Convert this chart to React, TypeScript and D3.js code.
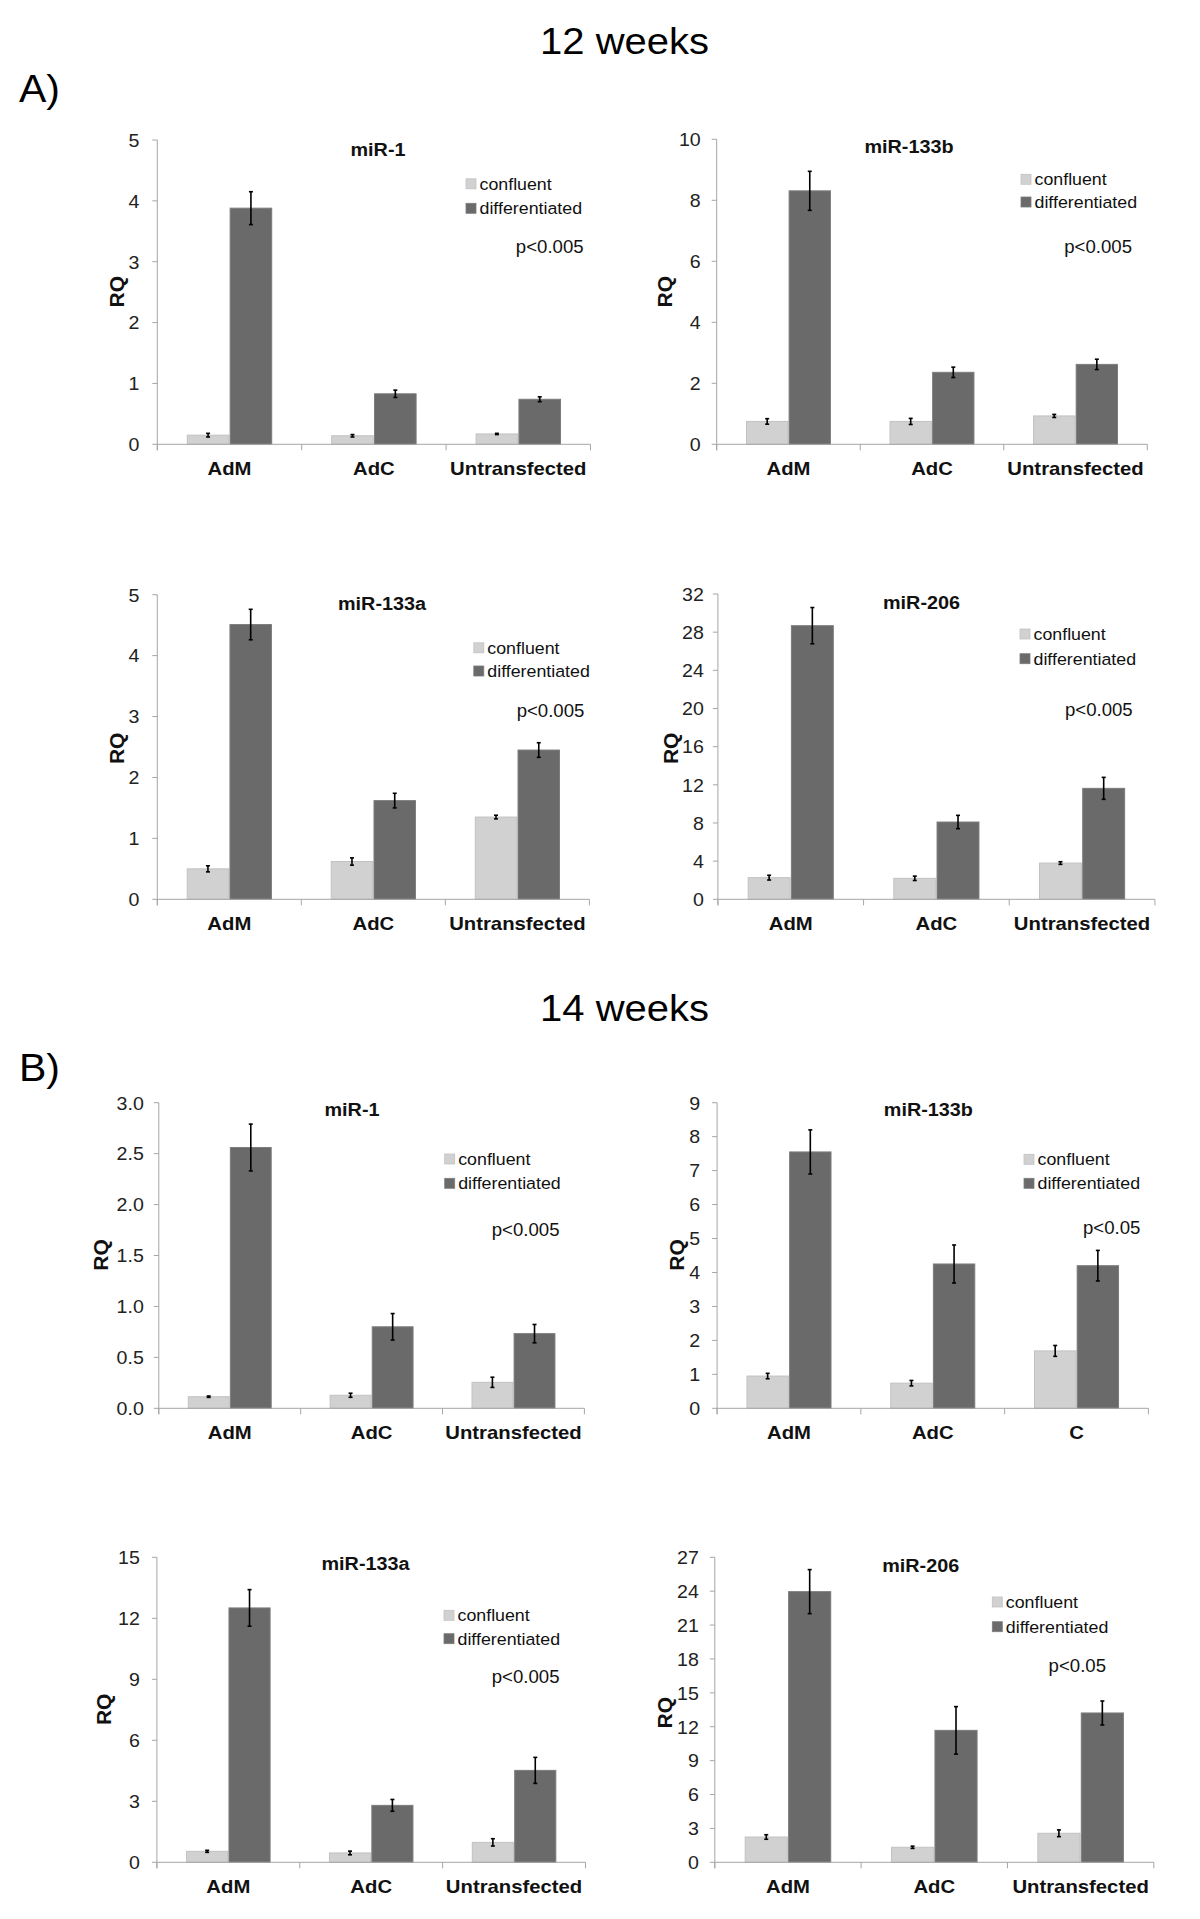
import React from "react";
import * as d3 from "d3";

// categories and series
const categories = ["AdM", "AdC", "Untransfected"];
const categoriesB2 = ["AdM", "AdC", "C"];
const seriesNames = ["confluent", "differentiated"];

// 12 weeks - miR-1
const a1Conf = [0.15, 0.14, 0.17];
const a1ConfErr = [0.03, 0.02, 0.01];
const a1Diff = [3.88, 0.83, 0.74];
const a1DiffErr = [0.27, 0.06, 0.04];
const a1Ticks = [0, 1, 2, 3, 4, 5];

// 12 weeks - miR-133b
const a2Conf = [0.75, 0.75, 0.93];
const a2ConfErr = [0.09, 0.1, 0.05];
const a2Diff = [8.31, 2.36, 2.62];
const a2DiffErr = [0.64, 0.17, 0.17];
const a2Ticks = [0, 2, 4, 6, 8, 10];

// 12 weeks - miR-133a
const a3Conf = [0.5, 0.62, 1.35];
const a3ConfErr = [0.05, 0.06, 0.03];
const a3Diff = [4.51, 1.62, 2.45];
const a3DiffErr = [0.25, 0.12, 0.12];
const a3Ticks = [0, 1, 2, 3, 4, 5];

// 12 weeks - miR-206
const a4Conf = [2.27, 2.2, 3.8];
const a4ConfErr = [0.25, 0.23, 0.14];
const a4Diff = [28.68, 8.1, 11.63];
const a4DiffErr = [1.9, 0.7, 1.15];
const a4Ticks = [0, 4, 8, 12, 16, 20, 24, 28, 32];

// 14 weeks - miR-1
const b1Conf = [0.114, 0.128, 0.255];
const b1ConfErr = [0.007, 0.02, 0.05];
const b1Diff = [2.56, 0.8, 0.733];
const b1DiffErr = [0.23, 0.13, 0.09];
const b1Ticks = [0, 0.5, 1.0, 1.5, 2.0, 2.5, 3.0];

// 14 weeks - miR-133b
const b2Conf = [0.95, 0.74, 1.69];
const b2ConfErr = [0.08, 0.08, 0.16];
const b2Diff = [7.55, 4.25, 4.2];
const b2DiffErr = [0.65, 0.56, 0.45];
const b2Ticks = [0, 1, 2, 3, 4, 5, 6, 7, 8, 9];

// 14 weeks - miR-133a
const b3Conf = [0.54, 0.46, 0.98];
const b3ConfErr = [0.05, 0.09, 0.18];
const b3Diff = [12.51, 2.8, 4.52];
const b3DiffErr = [0.9, 0.29, 0.64];
const b3Ticks = [0, 3, 6, 9, 12, 15];

// 14 weeks - miR-206
const b4Conf = [2.24, 1.33, 2.57];
const b4ConfErr = [0.2, 0.1, 0.3];
const b4Diff = [23.96, 11.68, 13.22];
const b4DiffErr = [1.95, 2.1, 1.06];
const b4Ticks = [0, 3, 6, 9, 12, 15, 18, 21, 24, 27];

const FONT = "'Liberation Sans', Arial, sans-serif";
const AXIS = "#a6a6a6";
const CONF = "#d1d1d1";
const DIFF = "#6a6a6a";
const colors = [CONF, DIFF];
const strokes = ["#c2c2c2", "#7c7c7c"];

const panels = [
  { title: "miR-1", cats: categories, conf: a1Conf, confErr: a1ConfErr, diff: a1Diff, diffErr: a1DiffErr, ticks: a1Ticks, p: "p<0.005", fmt: "d",
    left: 157.3, right: 590.5, top: 140, bottom: 444.3, titleX: 378, titleY: 156, legX: 466, legY: 183.8, legY2: 208.3, pX: 583.6, pY: 253, rqX: 116.7, rqY: 291.7, tickPad: 13 },
  { title: "miR-133b", cats: categories, conf: a2Conf, confErr: a2ConfErr, diff: a2Diff, diffErr: a2DiffErr, ticks: a2Ticks, p: "p<0.005", fmt: "d",
    left: 716.7, right: 1147.3, top: 139.3, bottom: 444.3, titleX: 909, titleY: 152.7, legX: 1021, legY: 179.3, legY2: 202, pX: 1132, pY: 253, rqX: 665, rqY: 291.7, tickPad: 11 },
  { title: "miR-133a", cats: categories, conf: a3Conf, confErr: a3ConfErr, diff: a3Diff, diffErr: a3DiffErr, ticks: a3Ticks, p: "p<0.005", fmt: "d",
    left: 157.3, right: 589.4, top: 594.7, bottom: 899.3, titleX: 382, titleY: 610, legX: 473.8, legY: 647.8, legY2: 671, pX: 584.4, pY: 716.7, rqX: 116.7, rqY: 748.3, tickPad: 13 },
  { title: "miR-206", cats: categories, conf: a4Conf, confErr: a4ConfErr, diff: a4Diff, diffErr: a4DiffErr, ticks: a4Ticks, p: "p<0.005", fmt: "d",
    left: 717.9, right: 1154.9, top: 594, bottom: 899.3, titleX: 921.5, titleY: 609.3, legX: 1020, legY: 634, legY2: 658.7, pX: 1132.7, pY: 716, rqX: 670.8, rqY: 748.3, tickPad: 9 },
  { title: "miR-1", cats: categories, conf: b1Conf, confErr: b1ConfErr, diff: b1Diff, diffErr: b1DiffErr, ticks: b1Ticks, p: "p<0.005", fmt: ".1f",
    left: 158.8, right: 584.4, top: 1102.7, bottom: 1408.3, titleX: 352, titleY: 1116, legX: 444.7, legY: 1159, legY2: 1183.3, pX: 559.5, pY: 1236, rqX: 101.4, rqY: 1255, tickPad: 10 },
  { title: "miR-133b", cats: categoriesB2, conf: b2Conf, confErr: b2ConfErr, diff: b2Diff, diffErr: b2DiffErr, ticks: b2Ticks, p: "p<0.05", fmt: "d",
    left: 717.1, right: 1148.4, top: 1102.7, bottom: 1408.3, titleX: 928.4, titleY: 1116, legX: 1024, legY: 1159.3, legY2: 1183.3, pX: 1140.4, pY: 1234, rqX: 676.5, rqY: 1255, tickPad: 12 },
  { title: "miR-133a", cats: categories, conf: b3Conf, confErr: b3ConfErr, diff: b3Diff, diffErr: b3DiffErr, ticks: b3Ticks, p: "p<0.005", fmt: "d",
    left: 156.9, right: 585.5, top: 1557.3, bottom: 1862.3, titleX: 365.5, titleY: 1570, legX: 444, legY: 1615.3, legY2: 1638.7, pX: 559.5, pY: 1683.3, rqX: 104, rqY: 1709.3, tickPad: 12 },
  { title: "miR-206", cats: categories, conf: b4Conf, confErr: b4ConfErr, diff: b4Diff, diffErr: b4DiffErr, ticks: b4Ticks, p: "p<0.05", fmt: "d",
    left: 714.8, right: 1153.8, top: 1557.3, bottom: 1862.3, titleX: 920.7, titleY: 1571.7, legX: 992.3, legY: 1602, legY2: 1626.7, pX: 1106, pY: 1671.7, rqX: 665, rqY: 1712.7, tickPad: 11 },
];

// text slightly squashed vertically, like the original figure
const T = ({ x, y, sy = 0.94, children, ...rest }: any) => (
  <text transform={`translate(${x},${y}) scale(1,${sy})`} fontFamily={FONT} {...rest}>
    {children}
  </text>
);

const Panel = ({ p }: any) => {
  const max = p.ticks[p.ticks.length - 1];
  const y = d3.scaleLinear().domain([0, max]).range([p.bottom, p.top]);
  const x0 = d3.scaleBand().domain(p.cats).range([p.left, p.right]).padding(0);
  const x1 = d3
    .scaleBand()
    .domain(seriesNames)
    .range([0, x0.bandwidth()])
    .paddingInner(0.03)
    .paddingOuter(0.7);
  const fmt = d3.format(p.fmt);
  const vals = [p.conf, p.diff];
  const errs = [p.confErr, p.diffErr];
  const edges = [...p.cats.map((c: string) => x0(c)), p.right];

  return (
    <g>
      {/* bars */}
      {p.cats.map((c: string, i: number) =>
        seriesNames.map((s, k) => {
          const bx = x0(c)! + x1(s)!;
          const v = vals[k][i];
          return (
            <rect
              key={c + s}
              x={bx}
              y={y(v)}
              width={x1.bandwidth()}
              height={p.bottom - y(v)}
              fill={colors[k]}
              stroke={strokes[k]}
              strokeWidth={1}
            />
          );
        })
      )}
      {/* error bars */}
      {p.cats.map((c: string, i: number) =>
        seriesNames.map((s, k) => {
          const cx = x0(c)! + x1(s)! + x1.bandwidth() / 2;
          const v = vals[k][i];
          const e = errs[k][i];
          return (
            <g key={"e" + c + s} stroke="#000" strokeWidth={1.6}>
              <line x1={cx} x2={cx} y1={y(v + e)} y2={y(v - e)} />
              <line x1={cx - 2} x2={cx + 2} y1={y(v + e)} y2={y(v + e)} />
              <line x1={cx - 2} x2={cx + 2} y1={y(v - e)} y2={y(v - e)} />
            </g>
          );
        })
      )}
      {/* y axis */}
      <line x1={p.left} x2={p.left} y1={p.top} y2={p.bottom + 6} stroke={AXIS} strokeWidth={1} />
      {p.ticks.map((t: number) => (
        <g key={"t" + t}>
          <line x1={p.left - 5} x2={p.left} y1={y(t)} y2={y(t)} stroke={AXIS} strokeWidth={1} />
          <T x={p.left - 5 - p.tickPad} y={y(t) + 6.8} textAnchor="end" fontSize={19.6} fill="#222">
            {fmt(t)}
          </T>
        </g>
      ))}
      {/* x axis */}
      <line x1={p.left} x2={p.right} y1={p.bottom} y2={p.bottom} stroke={AXIS} strokeWidth={1} />
      {edges.map((ex: number, i: number) => (
        <line key={"x" + i} x1={ex} x2={ex} y1={p.bottom} y2={p.bottom + 6} stroke={AXIS} strokeWidth={1} />
      ))}
      {p.cats.map((c: string) => (
        <T
          key={"c" + c}
          x={x0(c)! + x0.bandwidth() / 2}
          y={p.bottom + 31}
          textAnchor="middle"
          fontSize={20.3}
          fontWeight="bold"
          fill="#111"
        >
          {c}
        </T>
      ))}
      {/* y label */}
      <text
        transform={`translate(${p.rqX + 7},${p.rqY}) rotate(-90)`}
        textAnchor="middle"
        fontFamily={FONT}
        fontSize={21}
        fontWeight="bold"
        fill="#111"
      >
        RQ
      </text>
      {/* title */}
      <T x={p.titleX} y={p.titleY} textAnchor="middle" fontSize={19.8} fontWeight="bold" fill="#111">
        {p.title}
      </T>
      {/* legend */}
      {seriesNames.map((s, k) => {
        const ly = k === 0 ? p.legY : p.legY2;
        return (
          <g key={"l" + s}>
            <rect x={p.legX} y={ly - 5} width={10} height={10} fill={colors[k]} stroke={strokes[k]} strokeWidth={0.8} />
            <T x={p.legX + 13.5} y={ly + 6} fontSize={17.8} fill="#111">
              {s}
            </T>
          </g>
        );
      })}
      {/* significance */}
      <T x={p.pX} y={p.pY} textAnchor="end" fontSize={18.6} fill="#111">
        {p.p}
      </T>
    </g>
  );
};

export default function App() {
  return (
    <svg
      width={1200}
      height={1919}
      style={{ position: "absolute", left: 0, top: 0, background: "#fff" }}
    >
      <rect width={1200} height={1919} fill="#fff" />
      <T x={624.5} y={54} textAnchor="middle" fontSize={40} fill="#000">
        12 weeks
      </T>
      <T x={19} y={102} fontSize={41} fill="#000">
        A)
      </T>
      <T x={624.5} y={1021} textAnchor="middle" fontSize={40} fill="#000">
        14 weeks
      </T>
      <T x={19} y={1081} fontSize={41} fill="#000">
        B)
      </T>
      {panels.map((p, i) => (
        <Panel key={i} p={p} />
      ))}
    </svg>
  );
}
